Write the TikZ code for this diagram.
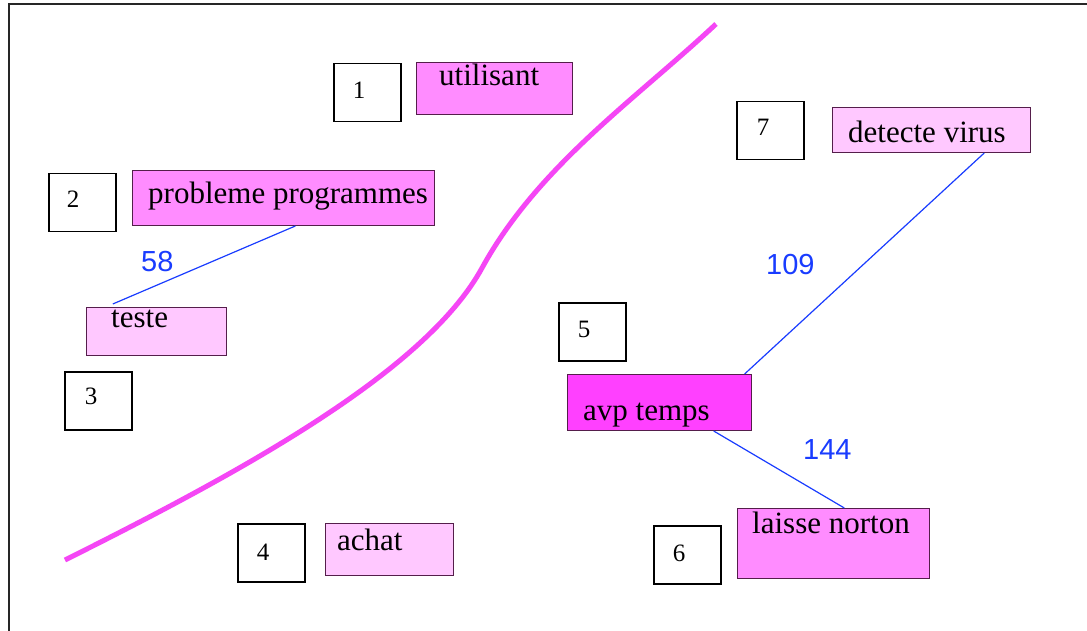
\documentclass[tikz,border=0pt]{standalone}
\usepackage{fontspec}
\setmainfont{Liberation Serif}
\newfontfamily\weightfont{Liberation Sans}
\usetikzlibrary{calc}
\definecolor{pinkA}{RGB}{255,140,255}
\definecolor{pinkB}{RGB}{255,200,255}
\definecolor{pinkC}{RGB}{255,64,255}
\definecolor{edgeC}{RGB}{85,30,75}
\definecolor{weightC}{RGB}{25,60,255}
\definecolor{curveC}{RGB}{245,70,245}
\begin{document}
\begin{tikzpicture}[x=1pt,y=-1pt,
  numbox/.style={draw=black, line width=1.5pt, fill=white, anchor=north west,
    inner sep=0pt, minimum width=67pt, minimum height=58pt},
  termbox/.style={draw=edgeC, line width=1pt, anchor=north west, inner sep=0pt},
  term/.style={anchor=base west, inner sep=0pt, font=\fontsize{31}{36}\selectfont},
  digit/.style={inner sep=0pt, font=\fontsize{25}{29}\selectfont},
  link/.style={draw=weightC, line width=1.2pt},
  weight/.style={anchor=base west, inner sep=0pt, text=weightC,
    font=\weightfont\fontsize{29}{34}\selectfont}]
\useasboundingbox (0,0) rectangle (1087,631);
\clip (0,0) rectangle (1087,631);
\fill[white] (0,0) rectangle (1087,631);

% outer frame
\draw[line width=2pt, black!85] (9,4) rectangle (1100,650);

% dividing curve
\draw[curveC, line width=5pt]
  (65,560) .. controls (241,472) and (425,372) .. (482,268)
           .. controls (538,166) and (636,99) .. (716,24);

% numbered boxes
\node[numbox] (n1) at (333,63) {};
\node[digit] (d1) at (359,90) {1};
\node[numbox] (n2) at (48,173) {};
\node[digit] (d2) at (73,199) {2};
\node[numbox] (n3) at (64,371) {};
\node[digit] (d3) at (91,396) {3};
\node[numbox] (n4) at (237,523) {};
\node[digit] (d4) at (263,552) {4};
\node[numbox] (n5) at (558,302) {};
\node[digit] (d5) at (584,329) {5};
\node[numbox] (n6) at (653,525) {};
\node[digit] (d6) at (679,553) {6};
\node[numbox] (n7) at (736,101) {};
\node[digit] (d7) at (763,127) {7};

% term boxes
\node[termbox, fill=pinkA, minimum width=156pt, minimum height=52pt] (util) at (416,62) {};
\node[term] (tutil) at (439,86) {utilisant};
\node[termbox, fill=pinkA, minimum width=302pt, minimum height=55pt] (prob) at (132,170) {};
\node[term] (tprob) at (148,204) {probleme programmes};
\node[termbox, fill=pinkB, minimum width=140pt, minimum height=48pt] (test) at (86,307) {};
\node[term] (ttest) at (111,327) {teste};
\node[termbox, fill=pinkB, minimum width=128pt, minimum height=52pt] (achat) at (325,523) {};
\node[term] (tachat) at (337,550) {achat};
\node[termbox, fill=pinkC, minimum width=184pt, minimum height=56pt] (avp) at (567,374) {};
\node[term] (tavp) at (583,420) {avp temps};
\node[termbox, fill=pinkA, minimum width=192pt, minimum height=70pt] (norton) at (737,508) {};
\node[term] (tnorton) at (752,533) {laisse norton};
\node[termbox, fill=pinkB, minimum width=198pt, minimum height=45pt] (virus) at (832,107) {};
\node[term] (tvirus) at (848,143) {detecte virus};

% weighted links
\draw[link] ($(prob.south west)!0.539!(prob.south east)$) -- ($(test.north west)!0.19!(test.north east)+(0,-3)$);
\draw[link] ($(avp.north west)!0.96!(avp.north east)$) -- ($(virus.south west)!0.765!(virus.south east)$);
\draw[link] ($(avp.south west)!0.793!(avp.south east)$) -- ($(norton.north west)!0.556!(norton.north east)$);

\node[weight] (w58) at (141,272) {58};
\node[weight] (w109) at (766,274) {109};
\node[weight] (w144) at (803,459) {144};
\end{tikzpicture}
\end{document}
